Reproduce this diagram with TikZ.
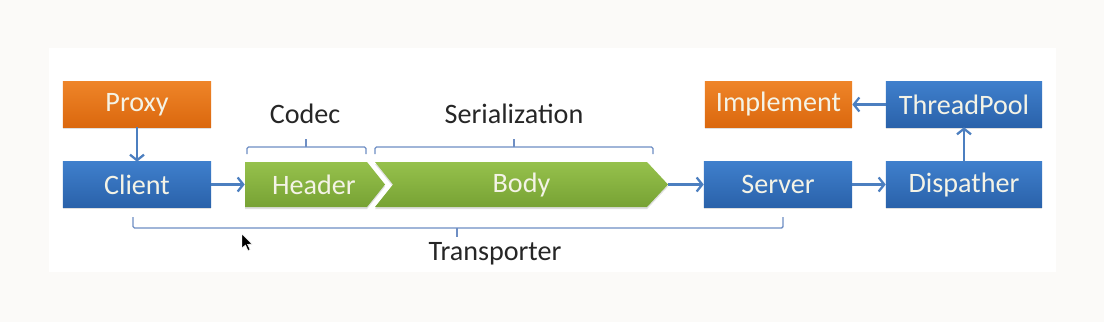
\documentclass[tikz,border=0pt]{standalone}
\usepackage{fontspec}
\setmainfont{Carlito}
\usetikzlibrary{arrows.meta,shadows}
\definecolor{bg}{HTML}{FBFAF8}
\definecolor{blueT}{HTML}{3F7FCC}
\definecolor{blueB}{HTML}{2A62AA}
\definecolor{orangeT}{HTML}{EE8428}
\definecolor{orangeB}{HTML}{DB680E}
\definecolor{greenT}{HTML}{96C14C}
\definecolor{greenB}{HTML}{77A234}
\definecolor{boxtext}{HTML}{F4F3E6}
\definecolor{conncol}{HTML}{4C7FC0}
\definecolor{bracecol}{HTML}{6E8EC4}
\definecolor{labcol}{HTML}{262626}
\begin{document}
\begin{tikzpicture}[x=0.025cm,y=-0.025cm,
  box/.style={minimum width=3.7cm, minimum height=1.125cm, inner sep=0pt,
    text=boxtext, font=\fontsize{20}{24}\selectfont,
    drop shadow={opacity=0.25, shadow xshift=0pt, shadow yshift=-1.5pt}},
  bluebox/.style={box, top color=blueT, bottom color=blueB},
  orangebox/.style={box, top color=orangeT, bottom color=orangeB},
  seg/.style={minimum height=1.125cm, inner sep=0pt, text=boxtext,
    font=\fontsize{20}{24}\selectfont},
  greenfill/.style={top color=greenT, bottom color=greenB,
    drop shadow={opacity=0.25, shadow xshift=0pt, shadow yshift=-1.5pt}},
  conn/.style={draw=conncol, line width=1.6pt,
    -{Straight Barb[length=4pt,width=10pt]}},
  bracket/.style={draw=bracecol, line width=0.9pt, rounded corners=1pt},
  lab/.style={text=labcol, font=\fontsize{20}{24}\selectfont, inner sep=0pt}
]
\fill[bg] (0,0) rectangle (1104,322);
\fill[white] (49,48) rectangle (1056,272);
\useasboundingbox (0,0) rectangle (1104,322);

% green segments
\path[greenfill] (245,162) -- (367,162) -- (385,184.5) -- (367,207) -- (245,207) -- cycle;
\path[greenfill] (375,162) -- (647,162) -- (668,184.5) -- (647,207) -- (375,207) -- (393,184.5) -- cycle;
\node[seg, minimum width=3.45cm] (header) at (314,184.5) {Header};
\node[seg, minimum width=7.325cm] (body) at (521.5,184.5) {Body};

% boxes
\node[orangebox] (proxy) at (137,104.5) {Proxy};
\node[bluebox] (client) at (137,184.5) {Client};
\node[bluebox] (server) at (778,184.5) {Server};
\node[orangebox, minimum width=3.675cm] (impl) at (778.5,104.5) {Implement};
\node[bluebox, minimum width=3.9cm] (disp) at (964,184.5) {Dispather};
\node[bluebox, minimum width=3.9cm] (pool) at (964,104.5) {ThreadPool};

% connectors
\draw[conn] (proxy) -- (client);
\draw[conn] (client) -- (header);
\draw[conn] (body) -- (server);
\draw[conn] (server) -- (disp);
\draw[conn] (disp) -- (pool);
\draw[conn] (pool) -- (impl);

% brackets and labels
\draw[bracket] (247,154) -- (247,147) -- (366,147) -- (366,154);
\draw[bracket] (306,147) -- (306,139);
\node[lab] (codec) at (305,114) {Codec};
\draw[bracket] (375,154) -- (375,147) -- (653,147) -- (653,154);
\draw[bracket] (514,147) -- (514,139);
\node[lab] (serial) at (514,114) {Serialization};
\draw[bracket] (133,217) -- (133,228) -- (783,228) -- (783,217);
\draw[bracket] (457,228) -- (457,237);
\node[lab] (transp) at (495,254) {Transporter};

% mouse cursor
\filldraw[fill=black, draw=white, line width=0.3pt]
  (242,234) -- (242,248) -- (245.5,245) -- (248,250.5) -- (250,249.5) -- (247.5,244.3) -- (252,244) -- cycle;
\end{tikzpicture}
\end{document}
